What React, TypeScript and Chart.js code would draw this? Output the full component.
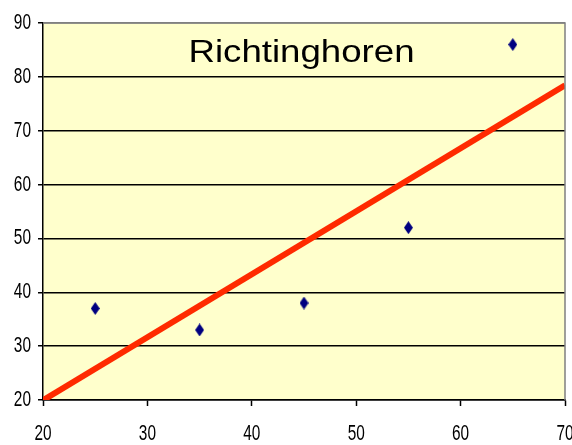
import React, { useEffect, useRef } from "react";
import { Chart, registerables } from "chart.js";

Chart.register(...registerables);

// ---- data ----
const xValues = [25, 35, 45, 55, 65];
const yValues = [37, 33, 38, 52, 86];
const trendX = [20, 70];
const trendY = [19.95, 78.45];
const xMin = 20, xMax = 70, xStep = 10;
const yMin = 20, yMax = 90, yStep = 10;
const chartTitle = "Richtinghoren";

function makeDiamond(): HTMLCanvasElement {
  const c = document.createElement("canvas");
  c.width = 9;
  c.height = 13;
  const g = c.getContext("2d")!;
  g.fillStyle = "#000080";
  g.beginPath();
  g.moveTo(4.5, 0);
  g.lineTo(9, 6.5);
  g.lineTo(4.5, 13);
  g.lineTo(0, 6.5);
  g.closePath();
  g.fill();
  return c;
}

const LABEL_FONT = '22px "Liberation Sans", Arial, sans-serif';
const LABEL_SX = 0.7;

function drawLabel(ctx: CanvasRenderingContext2D, text: string, x: number, y: number, align: CanvasTextAlign) {
  ctx.save();
  ctx.translate(x, y);
  ctx.scale(LABEL_SX, 1);
  ctx.textAlign = align;
  ctx.textBaseline = "middle";
  ctx.fillText(text, 0, 0);
  ctx.restore();
}

const plotDecor = {
  id: "plotDecor",
  beforeDraw(chart: any) {
    const { ctx, chartArea: a } = chart;
    ctx.save();
    ctx.fillStyle = "#FFFFCC";
    ctx.fillRect(a.left, a.top, a.right - a.left, a.bottom - a.top);
    ctx.restore();
  },
  afterDraw(chart: any) {
    const { ctx, chartArea: a } = chart;
    ctx.save();
    ctx.strokeStyle = "#808080";
    ctx.lineWidth = 1.5;
    ctx.beginPath();
    ctx.moveTo(a.left, a.top);
    ctx.lineTo(a.right, a.top);
    ctx.lineTo(a.right, a.bottom);
    ctx.stroke();

    // tick labels (horizontally condensed), placed through the scales
    ctx.fillStyle = "#000";
    ctx.font = LABEL_FONT;
    const xs = chart.scales.x;
    const ys = chart.scales.y;
    xs.ticks.forEach((t: any) => {
      drawLabel(ctx, String(t.value), xs.getPixelForValue(t.value), a.bottom + 34, "center");
    });
    ys.ticks.forEach((t: any) => {
      drawLabel(ctx, String(t.value), a.left - 12, ys.getPixelForValue(t.value), "right");
    });

    // title inside plot
    ctx.font = '31px "Liberation Sans", Arial, sans-serif';
    ctx.textAlign = "center";
    ctx.textBaseline = "alphabetic";
    const w = ctx.measureText(chartTitle).width;
    const sx = 226 / w;
    ctx.translate((a.left + a.right) / 2 - 2.5, a.top + 39);
    ctx.scale(sx, 1);
    ctx.fillText(chartTitle, 0, 0);
    ctx.restore();
  },
};

export default function App() {
  const ref = useRef<HTMLCanvasElement>(null);
  useEffect(() => {
    document.body.style.margin = "0";
    const diamond = makeDiamond();
    const chart = new Chart(ref.current!, {
      type: "scatter",
      data: {
        datasets: [
          {
            data: xValues.map((x, i) => ({ x, y: yValues[i] })),
            pointStyle: diamond as any,
            pointRadius: 6,
            backgroundColor: "#000080",
            borderColor: "#000080",
            order: 0,
          },
          {
            data: trendX.map((x, i) => ({ x, y: trendY[i] })),
            showLine: true,
            borderColor: "#FF2A00",
            borderWidth: 6,
            pointRadius: 0,
            order: 1,
          } as any,
        ],
      },
      options: {
        responsive: false,
        animation: false,
        layout: { padding: { left: 38, top: 23, right: 7, bottom: 39 } },
        plugins: { legend: { display: false }, tooltip: { enabled: false }, title: { display: false } },
        scales: {
          x: {
            type: "linear",
            min: xMin,
            max: xMax,
            ticks: { stepSize: xStep, display: false },
            grid: { drawOnChartArea: false, drawTicks: true, tickLength: 6, tickColor: "#000", tickWidth: 1.5 },
            border: { display: true, color: "#000", width: 1.5 },
          },
          y: {
            type: "linear",
            min: yMin,
            max: yMax,
            ticks: { stepSize: yStep, display: false },
            grid: {
              color: (c: any) => (c.tick && c.tick.value === yMax ? "#808080" : "#000"),
              lineWidth: 1.5,
              tickLength: 5,
              tickColor: "#000",
              tickWidth: 1.5,
            },
            border: { display: true, color: "#000", width: 1.5 },
          },
        },
      },
      plugins: [plotDecor],
    });
    return () => chart.destroy();
  }, []);
  return (
    <div style={{ width: 572, height: 445, overflow: "hidden", background: "#fff" }}>
      <canvas ref={ref} width={572} height={445} style={{ width: 572, height: 445, display: "block" }} />
    </div>
  );
}
